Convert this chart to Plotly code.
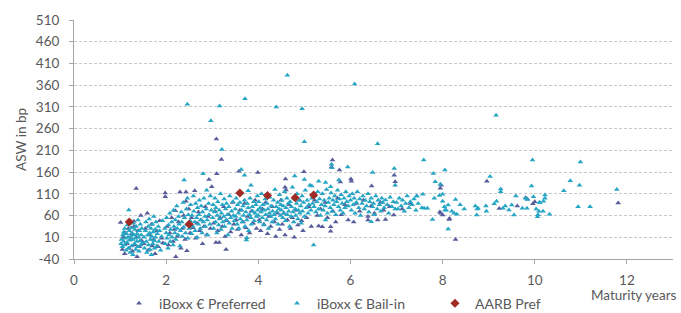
import plotly.graph_objects as go

# iBoxx € Bail-in: (maturity years, ASW bp)
bailin_points = [
    (1.02,-5),(1.03,5),(1.05,-12),(1.06,15),(1.08,0),(1.08,22),(1.1,-8),(1.1,30),(1.12,8),(1.13,-20),
    (1.14,18),(1.15,-2),(1.16,38),(1.17,10),(1.18,-15),(1.19,73),(1.2,25),(1.21,3),(1.22,-25),(1.23,12),
    (1.24,32),(1.25,-10),(1.26,20),(1.27,5),(1.28,-30),(1.29,42),(1.3,15),(1.31,-5),(1.32,28),(1.33,8),
    (1.34,-18),(1.35,35),(1.36,0),(1.37,18),(1.38,-12),(1.39,50),(1.4,10),(1.41,-22),(1.42,25),(1.43,2),
    (1.44,40),(1.45,-8),(1.46,15),(1.47,30),(1.48,-3),
    (1.52,10),(1.53,-15),(1.55,25),(1.56,45),(1.57,0),(1.58,-25),(1.6,15),(1.61,35),(1.62,-8),(1.63,52),
    (1.64,20),(1.65,-18),(1.66,5),(1.67,30),(1.68,-30),(1.69,12),(1.7,40),(1.71,-5),(1.72,22),(1.73,58),
    (1.74,2),(1.75,-15),(1.76,28),(1.77,10),(1.78,45),(1.8,-10),(1.81,18),(1.83,35),(1.84,0),(1.86,25),
    (1.88,-20),(1.9,12),(1.92,48),
    (1.97,30),(1.98,-5),(2.0,20),(2.01,55),(2.02,8),(2.04,-15),(2.05,38),(2.06,15),(2.08,65),(2.09,0),
    (2.1,28),(2.12,45),(2.13,10),(2.15,-8),(2.16,72),(2.17,35),(2.19,20),(2.2,50),(2.21,5),(2.23,82),
    (2.24,30),(2.26,15),(2.27,58),(2.28,40),(2.3,-10),(2.31,25),(2.33,68),(2.34,45),(2.35,12),(2.37,90),
    (2.38,33),(2.39,142),(2.4,55),(2.42,20),(2.44,75),(2.45,40),(2.46,100),(2.47,8),(2.48,62),(2.5,30),
    (2.52,48),(2.53,85),(2.55,18),(2.56,60),(2.58,35),(2.59,105),(2.6,70),(2.62,45),(2.63,25),(2.64,88),
    (2.66,55),(2.67,10),(2.68,78),(2.7,40),(2.71,62),(2.72,95),(2.74,30),(2.75,50),(2.76,82),(2.78,20),
    (2.79,68),(2.8,156),(2.81,45),(2.82,100),(2.84,58),(2.85,35),(2.87,75),(2.88,118),(2.89,50),(2.9,15),
    (2.92,88),(2.93,62),(2.95,40),(2.96,105),(2.98,72),
    (2.46,316),(3.16,312),(2.97,278),(3.71,329),(4.39,310),(4.63,383),(4.95,306),(6.09,363),(3.21,212),
    (5.0,230),(6.59,225),(7.59,188),(9.16,291),(9.95,188),(10.99,183),
    (3.01,55),(3.02,85),(3.03,30),(3.05,68),(3.06,100),(3.07,45),(3.08,78),(3.1,20),(3.11,60),(3.12,92),
    (3.14,38),(3.15,72),(3.16,52),(3.18,110),(3.19,28),(3.2,65),(3.22,85),(3.23,45),(3.25,58),(3.26,98),
    (3.27,35),(3.29,75),(3.3,50),(3.31,88),(3.33,62),(3.34,15),(3.36,80),(3.37,42),(3.38,105),(3.4,55),
    (3.42,70),(3.43,30),(3.45,92),(3.46,60),(3.48,48),
    (3.63,166),(3.7,153),(3.84,130),(3.78,117),(3.74,4),(3.75,9),
    (3.5,75),(3.51,58),(3.52,100),(3.54,40),(3.55,85),(3.57,65),(3.58,30),(3.6,90),(3.61,52),(3.62,110),
    (3.64,72),(3.65,45),(3.67,82),(3.68,60),(3.7,95),(3.71,35),(3.73,68),(3.75,50),(3.76,88),(3.78,78),
    (3.79,25),(3.81,62),(3.82,100),(3.84,55),(3.85,40),(3.87,80),(3.88,70),(3.9,92),(3.91,48),(3.93,65),
    (3.95,85),(3.96,58),(3.98,105),(3.99,72),
    (4.0,60),(4.01,92),(4.03,45),(4.04,78),(4.06,68),(4.07,110),(4.09,55),(4.1,85),(4.12,38),(4.13,72),
    (4.15,98),(4.16,62),(4.18,50),(4.19,88),(4.21,75),(4.22,30),(4.24,65),(4.25,102),(4.27,58),(4.28,82),
    (4.3,45),(4.31,70),(4.33,95),(4.34,62),(4.36,120),(4.37,52),(4.39,80),(4.4,68),(4.42,90),(4.43,40),
    (4.45,75),(4.46,108),(4.48,60),(4.49,85),
    (4.79,151),(5.0,143),(5.2,-8),
    (4.5,72),(4.51,95),(4.53,55),(4.54,82),(4.56,65),(4.57,115),(4.59,48),(4.6,78),(4.62,100),(4.63,62),
    (4.65,88),(4.66,70),(4.68,35),(4.69,92),(4.71,58),(4.72,80),(4.74,125),(4.75,68),(4.77,45),(4.78,98),
    (4.8,75),(4.81,60),(4.83,88),(4.84,110),(4.86,52),(4.87,72),(4.89,95),(4.9,65),(4.92,82),(4.93,42),
    (4.95,105),(4.96,70),(4.98,90),(5.0,58),(5.02,118),(5.04,78),(5.06,95),(5.08,65),(5.1,85),(5.12,130),
    (5.14,72),(5.16,100),(5.18,88),
    (5.59,178),(5.6,170),(5.94,172),(5.31,139),(5.46,136),(5.57,126),(5.75,142),(5.16,128),(5.46,50),
    (5.21,80),(5.23,105),(5.25,68),(5.27,92),(5.29,115),(5.31,75),(5.33,98),(5.35,60),(5.37,85),(5.39,110),
    (5.41,72),(5.43,95),(5.45,82),(5.48,120),(5.5,65),(5.52,90),(5.54,100),(5.56,78),(5.58,112),(5.6,70),
    (5.62,95),(5.64,85),(5.66,105),(5.68,62),(5.7,92),(5.72,118),(5.74,80),(5.76,98),(5.78,72),(5.8,108),
    (5.82,88),(5.84,65),(5.86,100),(5.88,78),(5.9,115),(5.92,92),(5.95,82),(5.97,105),
    (6.48,159),(6.95,168),(6.97,130),(6.45,46),
    (6.0,95),(6.02,72),(6.04,110),(6.06,85),(6.08,100),(6.1,65),(6.13,90),(6.15,115),(6.18,78),(6.2,98),
    (6.22,60),(6.25,88),(6.27,105),(6.3,75),(6.32,95),(6.35,82),(6.38,110),(6.4,68),(6.42,92),(6.45,100),
    (6.48,80),(6.5,88),(6.52,62),(6.55,105),(6.58,75),(6.6,95),(6.63,85),(6.66,70),(6.68,100),(6.7,90),
    (6.73,78),(6.76,96),(6.8,85),(6.83,65),(6.86,102),(6.9,80),(6.93,92),(6.97,75),
    (7.0,90),(7.03,75),(7.06,100),(7.1,82),(7.13,95),(7.17,70),(7.2,88),(7.23,105),(7.27,78),(7.3,92),
    (7.34,85),(7.38,98),(7.42,72),(7.44,105),(7.47,88),
    (7.57,109),(7.82,100),(7.93,106),(8.0,109),(7.55,78),(7.6,77),(7.67,77),(8.0,93),(8.05,73),(8.12,84),
    (8.28,97),(8.2,70),(8.25,65),(8.31,63),(7.78,51),(8.12,29),(8.38,85),(8.47,75),(7.8,157),(8.05,165),
    (7.84,138),(7.95,132),(7.44,105),(8.04,80),(8.08,72),
    (8.71,82),(8.75,75),(8.77,77),(8.74,61),(8.94,82),(8.95,70),(9.03,150),(9.12,87),(9.17,93),(9.26,121),
    (9.26,115),(9.31,77),(9.36,82),(9.44,73),(9.5,84),(9.55,61),(9.59,105),(9.73,77),(9.83,77),(9.84,97),
    (9.8,100),(9.93,128),(9.97,103),(10.03,75),(10.06,57),(10.07,62),(10.09,70),(10.1,90),(10.19,93),
    (10.22,107),(10.22,100),(10.11,90),(10.18,70),(10.32,63),(10.63,117),(10.77,140),(10.97,130),
    (10.94,80),(11.2,80),(11.78,120),
]

# iBoxx € Preferred
preferred_points = [
    (1.01,44),(1.05,-18),(1.07,10),(1.1,-28),(1.12,20),(1.15,-5),(1.18,30),(1.2,-15),(1.22,5),(1.25,18),
    (1.27,-22),(1.3,35),(1.32,-8),(1.35,122),(1.36,10),(1.37,-35),(1.39,25),(1.42,-12),(1.45,60),(1.47,2),
    (1.3,47),
    (1.52,-5),(1.55,30),(1.59,65),(1.61,-20),(1.64,15),(1.68,40),(1.7,-10),(1.73,5),(1.76,-28),(1.8,25),
    (1.83,-12),(1.86,48),(1.9,8),(1.93,-3),(1.98,112),(1.98,103),
    (2.02,35),(2.05,-8),(2.08,20),(2.12,55),(2.15,0),(2.18,28),(2.2,71),(2.21,-35),(2.24,12),(2.27,45),
    (2.3,114),(2.32,-15),(2.35,30),(2.38,60),(2.41,5),(2.43,114),(2.43,93),(2.45,-21),(2.47,38),(2.49,75),
    (2.52,20),(2.55,55),(2.58,32),(2.62,117),(2.64,8),(2.67,42),(2.7,68),(2.73,25),(2.76,50),(2.79,-5),
    (2.82,35),(2.85,80),(2.88,15),(2.91,58),(2.93,143),(2.96,30),(2.99,126),
    (3.08,-2),(3.15,-2),(3.3,-18),(3.09,236),(3.2,189),(3.1,156),(3.03,42),(3.06,70),(3.12,25),(3.17,55),
    (3.22,35),(3.25,80),(3.28,12),(3.32,48),(3.36,62),(3.4,22),(3.44,90),(3.47,40),
    (3.58,162),(3.99,159),(3.52,50),(3.55,28),(3.6,72),(3.63,15),(3.67,45),(3.7,88),(3.73,32),(3.77,58),
    (3.81,20),(3.85,70),(3.89,42),(3.93,95),(3.96,30),
    (4.02,50),(4.05,25),(4.09,75),(4.12,40),(4.16,90),(4.2,18),(4.23,58),(4.27,35),(4.31,80),(4.35,45),
    (4.38,12),(4.42,65),(4.46,28),(4.49,95),
    (4.59,144),(4.6,119),(4.58,125),(4.52,40),(4.55,65),(4.58,15),(4.63,50),(4.67,85),(4.7,30),(4.74,55),
    (4.78,10),(4.82,72),(4.86,38),(4.9,95),(4.94,48),(4.97,25),(4.99,161),
    (5.61,188),(5.59,172),(5.76,165),(5.78,137),(5.31,36),(5.39,34),(5.57,34),(5.57,24),(5.68,45),(5.05,55),
    (5.1,80),(5.15,35),(5.22,95),(5.28,60),(5.35,75),(5.45,90),(5.5,55),(5.62,70),(5.72,100),(5.8,62),
    (5.88,85),(5.95,50),
    (6.01,144),(6.02,139),(6.46,128),(6.95,153),(6.07,45),(6.38,58),(6.38,50),(6.59,50),(6.76,51),(6.94,61),
    (6.12,88),(6.2,70),(6.28,95),(6.45,82),(6.52,65),(6.65,90),(6.72,72),(6.85,80),(6.97,138),
    (7.97,130),(7.95,123),(7.94,68),(7.96,65),(8.0,61),(8.14,51),(8.15,53),(8.28,5),(8.96,139),(9.23,76),
    (9.62,82),(9.8,101),(9.84,98),(9.96,87),(10.0,92),(11.81,89),(7.3,88),(7.12,75),
]

# AARB Pref
aarb_x = [1.2, 2.5, 3.6, 4.2, 4.8, 5.2]
aarb_y = [45, 40, 112, 106, 101, 107]

y_ticks = [-40, 10, 60, 110, 160, 210, 260, 310, 360, 410, 460, 510]
x_ticks = [0, 2, 4, 6, 8, 10, 12]

FONT = "Lato, 'Open Sans', sans-serif"
TEXT = "#595959"
TEAL = "#26A6C4"
SLATE = "#585C9B"
RED = "#A02B25"

fig = go.Figure()
fig.add_trace(go.Scatter(
    x=[p[0] for p in preferred_points], y=[p[1] for p in preferred_points],
    mode="markers", name="iBoxx € Preferred",
    marker=dict(symbol="triangle-up", size=5, color=SLATE, line=dict(width=0)),
))
fig.add_trace(go.Scatter(
    x=[p[0] for p in bailin_points], y=[p[1] for p in bailin_points],
    mode="markers", name="iBoxx € Bail-in",
    marker=dict(symbol="triangle-up", size=5, color=TEAL, line=dict(width=0)),
))
fig.add_trace(go.Scatter(
    x=aarb_x, y=aarb_y, mode="markers", name="AARB Pref",
    marker=dict(symbol="diamond", size=7, color=RED, line=dict(width=0)),
))

fig.update_layout(
    width=681, height=313,
    margin=dict(l=74, r=8, t=20, b=54, autoexpand=False),
    paper_bgcolor="white", plot_bgcolor="white",
    font=dict(family=FONT, size=13, color=TEXT),
    showlegend=True,
    legend=dict(orientation="h", x=(119 - 74) / 599, xanchor="left", y=-0.12, yanchor="top",
                font=dict(size=14, color=TEXT), itemwidth=30, tracegroupgap=0,
                entrywidthmode="pixels", entrywidth=113,
                bgcolor="rgba(0,0,0,0)"),
    xaxis=dict(range=[0, 13], tickvals=x_ticks, ticktext=[str(v) for v in x_ticks],
               showgrid=False, zeroline=False, showline=True, linecolor="#A6A6A6", linewidth=1,
               ticks="outside", ticklen=4, tickcolor="#A6A6A6", ticklabelstandoff=5,
               tickfont=dict(size=13.5, color=TEXT)),
    yaxis=dict(range=[-40, 510], tickvals=y_ticks, ticktext=[str(v) for v in y_ticks],
               showgrid=True, gridcolor="#C8C8C8", griddash="3px,2px", gridwidth=1,
               zeroline=False, showline=True, linecolor="#A6A6A6", linewidth=1,
               ticks="outside", ticklen=4, tickcolor="#A6A6A6", ticklabelstandoff=7,
               tickfont=dict(size=13.5, color=TEXT),
               title=dict(text="ASW in bp", font=dict(size=13.5, color=TEXT), standoff=6)),
)
fig.add_annotation(text="Maturity years", xref="paper", yref="paper", x=1.0, y=-0.11,
                   xanchor="right", yanchor="top", showarrow=False,
                   font=dict(size=13.5, color=TEXT), xshift=6)

fig.write_html("out.html", config={"displayModeBar": False},
               post_script="document.body.style.margin='0';")
